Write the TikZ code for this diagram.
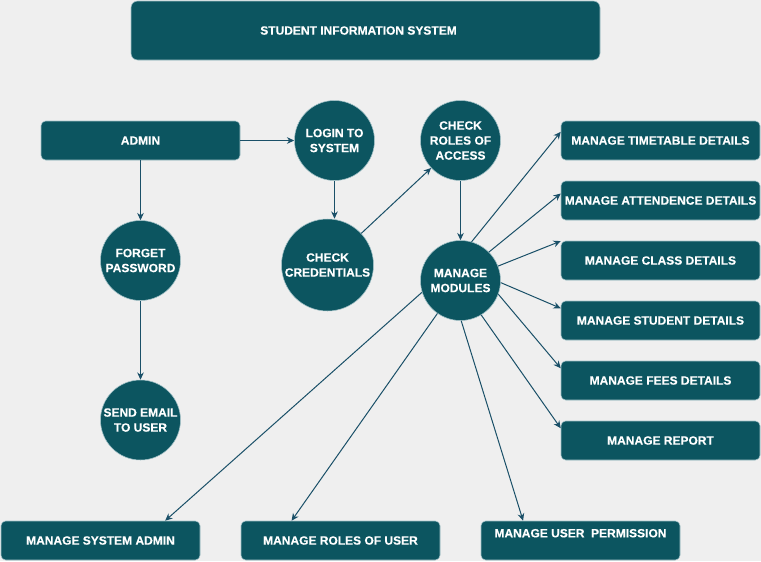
\documentclass[tikz,border=0pt]{standalone}
\usepackage{fontspec}
\setmainfont[FakeBold=0.15]{Liberation Sans}
\usetikzlibrary{arrows.meta}
\definecolor{boxfill}{HTML}{0C5560}
\definecolor{boxedge}{HTML}{A3C2C8}
\definecolor{flowline}{HTML}{1A5068}
\definecolor{paper}{HTML}{EFEFEF}
\tikzset{
  module/.style={draw=boxedge, fill=boxfill, text=white, rounded corners=3.5pt,
    minimum width=149.25pt, minimum height=29.25pt, inner sep=0pt,
    font=\fontsize{9}{11.25}\selectfont\bfseries},
  process/.style={circle, draw=boxedge, fill=boxfill, text=white, minimum size=60pt,
    inner sep=0pt, align=center, font=\fontsize{9}{11.25}\selectfont\bfseries},
  flow/.style={draw=flowline, line width=0.75pt, -{Stealth[length=5.5pt,width=5pt]}}
}
\begin{document}
\begin{tikzpicture}[x=0.75pt,y=-0.75pt]
\fill[paper] (0,0) rectangle (761,561);
\useasboundingbox (0,0) rectangle (761,561);
\node[module, minimum width=351.75pt, minimum height=44.25pt, rounded corners=5pt] (title) at (365.5,30.5) {STUDENT INFORMATION SYSTEM\kern10.5pt};
\node[module] (admin) at (140.5,140.5) {ADMIN};
\node[process] (login) at (334.5,140.5) {LOGIN TO\\SYSTEM};
\node[process] (roles) at (460.5,140.5) {CHECK\\ROLES OF\\ACCESS};
\node[process, minimum size=69pt] (cred) at (327.5,265) {CHECK\\CREDENTIALS};
\node[process] (modules) at (460.5,280.5) {MANAGE\\MODULES};
\node[process] (forget) at (140.5,260.5) {FORGET\\PASSWORD};
\node[process] (email) at (140.5,420) {SEND EMAIL\\TO USER};
\foreach \name/\y/\txt in {timetable/140.5/MANAGE TIMETABLE DETAILS,
    attend/200.5/MANAGE ATTENDENCE DETAILS, class/260.5/MANAGE CLASS DETAILS,
    student/320.5/MANAGE STUDENT DETAILS, fees/380.5/MANAGE FEES DETAILS,
    report/440.5/MANAGE REPORT}
  \node[module] (\name) at (660.5,\y) {\txt};
\node[module] (sysadmin) at (100.5,540.5) {MANAGE SYSTEM ADMIN};
\node[module] (usrroles) at (340.5,540.5) {MANAGE ROLES OF USER};
\node[module, text depth=11pt] (permission) at (580.5,540.5) {MANAGE USER\ \ PERMISSION};
% login and forgotten password
\draw[flow] (admin) -- (login);
\draw[flow] (admin) -- (forget);
\draw[flow] (forget) -- (email);
\draw[flow] (login.south) -- (login.south |- cred.north);
\draw[flow] (cred) -- (roles);
\draw[flow] (roles) -- (modules);
% modules fan out
\draw[flow] (modules.74) -- (timetable.175);
\draw[flow] (modules.45) -- (attend.176);
\draw[flow] (modules.21) -- (class.169);
\draw[flow] (modules.-3) -- (student.173);
\draw[flow] (modules.-20) -- (fees.173);
\draw[flow] (modules.-59) -- (report.173);
\draw[flow] (modules.-163) -- (sysadmin.17.5);
\draw[flow] (modules.-125) -- (usrroles.158.5);
\draw[flow] (modules.-89) -- (permission.161);
\end{tikzpicture}
\end{document}
